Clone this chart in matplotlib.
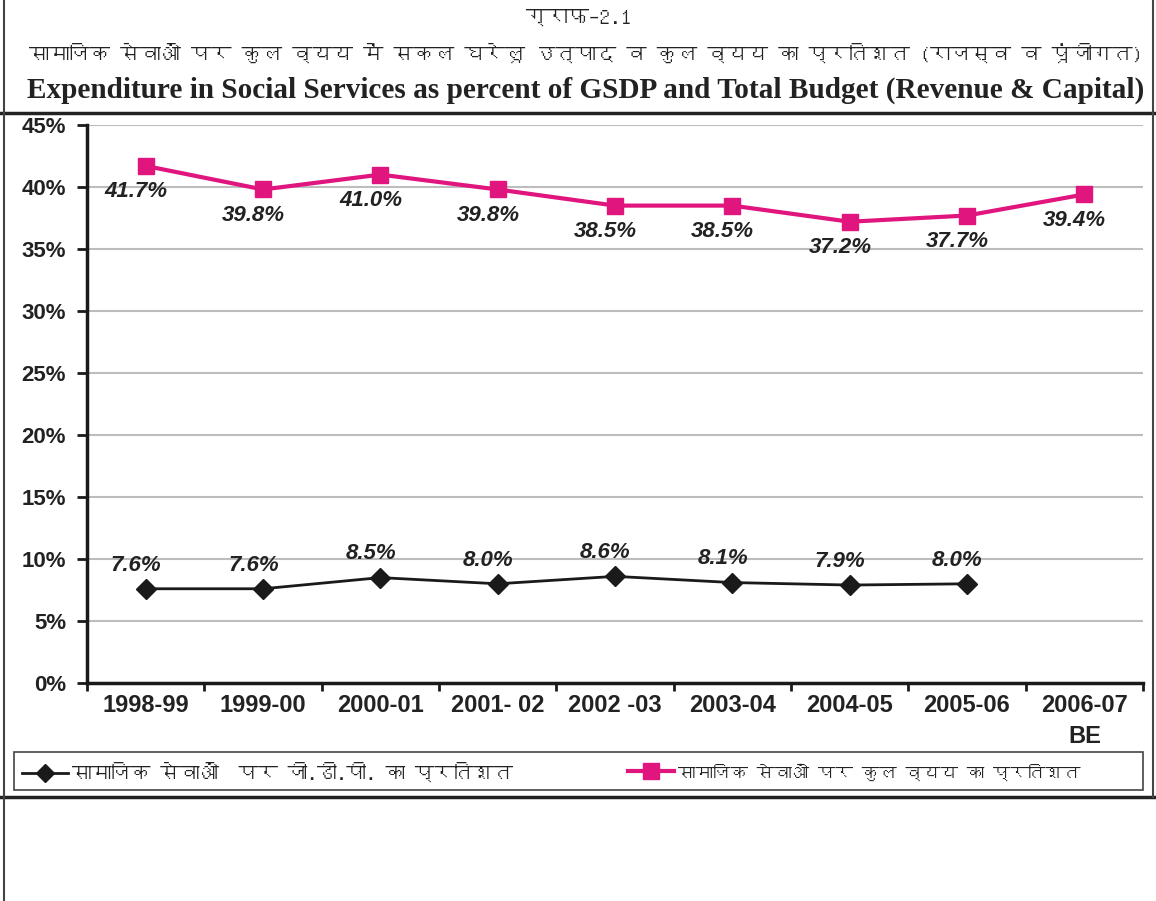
import matplotlib
matplotlib.use("Agg")
import matplotlib.pyplot as plt
from matplotlib import font_manager
from matplotlib.ft2font import FT2Font
from matplotlib.lines import Line2D
from matplotlib.patches import Rectangle

# Data
years = ["1998-99", "1999-00", "2000-01", "2001- 02", "2002 -03",
         "2003-04", "2004-05", "2005-06", "2006-07\nBE"]
pct_gdp = [7.6, 7.6, 8.5, 8.0, 8.6, 8.1, 7.9, 8.0]
pct_total = [41.7, 39.8, 41.0, 39.8, 38.5, 38.5, 37.2, 37.7, 39.4]
yticks = [0, 5, 10, 15, 20, 25, 30, 35, 40, 45]

title_hi0 = "ग्राफ–2.1"
title_hi = "सामाजिक सेवाओं पर कुल व्यय में सकल घरेलू उत्पाद व कुल व्यय का प्रतिशत (राजस्व व पूंजीगत)"
title_en = "Expenditure in Social Services as percent of GSDP and Total Budget (Revenue & Capital)"
label_gdp = "सामाजिक सेवाओं  पर जी.डी.पी. का प्रतिशत"
label_total = "सामाजिक सेवाओं पर कुल व्यय का प्रतिशत"

PINK = "#e0157e"
BLACK = "#1a1a1a"
TXT = "#222222"


# look for any installed font that has Devanagari glyphs
def find_deva():
    for f in font_manager.fontManager.ttflist:
        try:
            if FT2Font(f.fname).get_char_index(0x0915):
                return f.name
        except Exception:
            pass
    return None


deva = find_deva()
hi_family = [deva, "Liberation Sans", "DejaVu Sans"] if deva else ["Liberation Sans", "DejaVu Sans"]

plt.rcParams["font.family"] = ["Liberation Sans", "DejaVu Sans"]

W, H = 1156, 901
fig = plt.figure(figsize=(W / 100, H / 100), dpi=100)


def fx(px):
    return px / W


def fy(py):
    return 1 - py / H


ax = fig.add_axes([fx(87), fy(683), fx(1143) - fx(87), fy(125) - fy(683)])

x = list(range(len(years)))
ax.plot(x[:len(pct_gdp)], pct_gdp, color=BLACK, lw=2, marker="D", ms=10,
        mfc=BLACK, mec=BLACK, zorder=3)
ax.plot(x, pct_total, color=PINK, lw=3, marker="s", ms=11,
        mfc=PINK, mec=PINK, zorder=3)

lab_kw = dict(textcoords="offset points", ha="center", va="center", fontsize=16,
              fontweight="bold", fontstyle="italic", color=TXT)
for i, v in enumerate(pct_gdp):
    ax.annotate(f"{v:.1f}%", (i, v), xytext=(-7, 17), **lab_kw)
for i, v in enumerate(pct_total):
    ax.annotate(f"{v:.1f}%", (i, v), xytext=(-7, -18.5), **lab_kw)

ax.set_xlim(-0.5, len(years) - 0.5)
ax.set_ylim(0, 45)
ax.set_yticks(yticks)
ax.set_yticklabels([f"{t}%" for t in yticks], fontsize=16, fontweight="bold",
                   color=TXT)
ax.set_xticks(x)
ax.set_xticklabels(years, fontsize=17, fontweight="bold", color=TXT,
                   linespacing=1.45, va="top")
ax.set_xticks([i - 0.5 for i in range(len(years) + 1)], minor=True)
ax.tick_params(axis="x", which="major", length=0, pad=8)
ax.tick_params(axis="x", which="minor", length=6, width=2, color=BLACK,
               direction="out")
ax.tick_params(axis="y", length=7, width=2, color=BLACK, direction="out", pad=8)
ax.yaxis.grid(True, color="#bdbdbd", lw=1.5)
ax.set_axisbelow(True)
for s in ["top", "right"]:
    ax.spines[s].set_visible(False)
for s in ["left", "bottom"]:
    ax.spines[s].set_linewidth(2.5)
    ax.spines[s].set_color(BLACK)

# titles
t0 = fig.text(0.5, fy(18), title_hi0, ha="center", va="center", fontsize=15,
              fontweight="bold", family=hi_family, color=TXT)
t1 = fig.text(fx(586), fy(53), title_hi, ha="center", va="center", fontsize=19,
              family=hi_family, color=TXT)
t2 = fig.text(fx(586), fy(90), title_en, ha="center", va="center", fontsize=19,
              fontweight="bold", family=["Liberation Serif", "DejaVu Serif"],
              color=TXT)

# page frame lines
fig.add_artist(Line2D([0, 1], [fy(113), fy(113)], color=TXT, lw=2.5))
fig.add_artist(Line2D([0, 1], [fy(797), fy(797)], color=TXT, lw=2.5))
fig.add_artist(Line2D([fx(4), fx(4)], [0, 1], color="#444444", lw=1.5))
fig.add_artist(Line2D([fx(1153), fx(1153)], [fy(797), 1], color="#444444", lw=1.5))

# legend box and entries
fig.add_artist(Rectangle((fx(14), fy(790)), fx(1143) - fx(14), fy(752) - fy(790),
                         transform=fig.transFigure, fill=False,
                         edgecolor="#444444", lw=1.2))
h_gdp = Line2D([], [], color=BLACK, lw=2, marker="D", ms=9, mfc=BLACK, mec=BLACK)
h_tot = Line2D([], [], color=PINK, lw=3, marker="s", ms=11, mfc=PINK, mec=PINK)
leg_kw = dict(loc="center left", frameon=False, handlelength=2.2,
              handletextpad=0.2, borderpad=0, borderaxespad=0,
              prop={"family": hi_family, "size": 15})
leg1 = fig.legend([h_gdp], [label_gdp], bbox_to_anchor=(fx(22), fy(772)), **leg_kw)
leg2 = fig.legend([h_tot], [label_total], bbox_to_anchor=(fx(628), fy(772)), **leg_kw)
for lg in (leg1, leg2):
    for t in lg.get_texts():
        t.set_color(TXT)

# the Devanagari text is drawn unshaped and runs wide, so size texts to the widths seen
fig.canvas.draw()
rend = fig.canvas.get_renderer()


def fit(t, width_px):
    w = t.get_window_extent(rend).width
    t.set_fontsize(t.get_fontsize() * width_px / w)


fit(t0, 105)
fit(t1, 1117)
fit(t2, 1117)
fit(leg1.get_texts()[0], 442)
fit(leg2.get_texts()[0], 402)

fig.savefig("out.png", dpi=100)
